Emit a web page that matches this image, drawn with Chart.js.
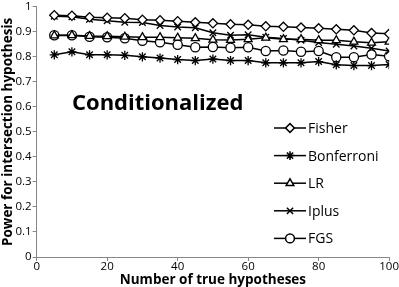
<!DOCTYPE html>
<html lang="en">
<head>
<meta charset="UTF-8">
<title>Power for intersection hypothesis</title>
<script src="https://cdn.jsdelivr.net/npm/chart.js"></script>
<style>
  html, body { margin: 0; padding: 0; background: #fff; }
  canvas { display: block; }
</style>
</head>
<body>
<canvas id="powerChart" width="399" height="287"></canvas>
<script>
// number of true hypotheses (x)
const trueHypotheses = [5, 10, 15, 20, 25, 30, 35, 40, 45, 50, 55, 60, 65, 70, 75, 80, 85, 90, 95, 100];

// power per method
const fisher     = [0.966, 0.964, 0.958, 0.956, 0.954, 0.948, 0.946, 0.942, 0.938, 0.934, 0.930, 0.928, 0.922, 0.920, 0.917, 0.914, 0.910, 0.906, 0.895, 0.892];
const bonferroni = [0.808, 0.820, 0.808, 0.808, 0.806, 0.800, 0.795, 0.789, 0.785, 0.791, 0.785, 0.785, 0.776, 0.776, 0.776, 0.781, 0.768, 0.765, 0.765, 0.769];
const lr         = [0.885, 0.886, 0.883, 0.882, 0.880, 0.878, 0.878, 0.876, 0.874, 0.868, 0.867, 0.870, 0.876, 0.870, 0.870, 0.866, 0.866, 0.860, 0.856, 0.860];
const iplus      = [0.962, 0.960, 0.950, 0.944, 0.938, 0.937, 0.925, 0.919, 0.916, 0.896, 0.886, 0.888, 0.878, 0.873, 0.866, 0.857, 0.850, 0.843, 0.834, 0.823];
const fgs        = [0.886, 0.886, 0.880, 0.878, 0.874, 0.864, 0.858, 0.848, 0.838, 0.839, 0.836, 0.838, 0.823, 0.825, 0.820, 0.823, 0.798, 0.798, 0.809, 0.802];

const seriesNames  = ['Fisher', 'Bonferroni', 'LR', 'Iplus', 'FGS'];
const seriesValues = [fisher, bonferroni, lr, iplus, fgs];
const markers      = ['rectRot', 'star', 'triangle', 'crossRot', 'circle'];

const xTicks = [0, 20, 40, 60, 80, 100];
const yTicks = [0, 0.1, 0.2, 0.3, 0.4, 0.5, 0.6, 0.7, 0.8, 0.9, 1];

const FONT = "'Open Sans', 'DejaVu Sans', sans-serif";
const AXIS_GREY = '#868686';

// big label inside the plot
const bigLabel = {
    id: 'bigLabel',
    afterDatasetsDraw(chart) {
        const ctx = chart.ctx;
        ctx.save();
        ctx.fillStyle = '#000';
        ctx.font = "bold 22px " + FONT;
        ctx.textBaseline = 'middle';
        ctx.fillText('Conditionalized', 72, 104);
        ctx.restore();
    }
};

// legend with line + marker, drawn inside the plot on the right
const insideLegend = {
    id: 'insideLegend',
    afterDatasetsDraw(chart) {
        const ctx = chart.ctx;
        ctx.save();
        chart.data.datasets.forEach((ds, i) => {
            const y = 128 + i * 27.6;
            const x0 = 274, x1 = 306;
            ctx.strokeStyle = '#000';
            ctx.lineWidth = 1.5;
            ctx.beginPath();
            ctx.moveTo(x0, y);
            ctx.lineTo(x1, y);
            ctx.stroke();
            ctx.fillStyle = '#fff';
            Chart.helpers.drawPoint(ctx, {
                pointStyle: ds.pointStyle, radius: 4.4, rotation: 0, borderWidth: 1.3
            }, (x0 + x1) / 2, y);
            ctx.fillStyle = '#000';
            ctx.font = "14px " + FONT;
            ctx.textBaseline = 'middle';
            ctx.fillText(ds.label, x1 + 2, y + 1);
        });
        ctx.restore();
    }
};

const datasets = seriesNames.map((name, i) => ({
    label: name,
    data: trueHypotheses.map((x, j) => ({ x: x, y: seriesValues[i][j] })),
    borderColor: '#000',
    borderWidth: 1.5,
    pointStyle: markers[i],
    pointRadius: 4.6,
    pointBorderWidth: 1.3,
    pointBorderColor: '#000',
    pointBackgroundColor: '#fff',
    fill: false,
    tension: 0
}));

new Chart(document.getElementById('powerChart').getContext('2d'), {
    type: 'line',
    data: { datasets: datasets },
    options: {
        responsive: false,
        animation: false,
        layout: { padding: { left: 1, right: 3, top: 1, bottom: 0 } },
        plugins: {
            legend: { display: false },
            tooltip: { enabled: false }
        },
        scales: {
            x: {
                type: 'linear',
                min: 0,
                max: 100,
                afterBuildTicks: axis => { axis.ticks = xTicks.map(v => ({ value: v })); },
                grid: { drawOnChartArea: false, tickLength: 4, color: AXIS_GREY },
                border: { color: AXIS_GREY, width: 1 },
                ticks: {
                    color: '#000', padding: 0, maxRotation: 0,
                    font: { family: FONT, size: 11.5, lineHeight: 1 },
                    callback: v => String(v)
                },
                title: {
                    display: true,
                    text: 'Number of true hypotheses',
                    color: '#000',
                    padding: { top: 1, bottom: 0 },
                    font: { family: FONT, size: 13.5, weight: 'bold', lineHeight: 1 }
                }
            },
            y: {
                type: 'linear',
                min: 0,
                max: 1,
                afterBuildTicks: axis => { axis.ticks = yTicks.map(v => ({ value: v })); },
                grid: { drawOnChartArea: false, tickLength: 4, color: AXIS_GREY },
                border: { color: AXIS_GREY, width: 1 },
                ticks: {
                    color: '#000', padding: 1,
                    font: { family: FONT, size: 11.5, lineHeight: 1 },
                    callback: v => String(v)
                },
                title: {
                    display: true,
                    text: 'Power for intersection hypothesis',
                    color: '#000',
                    padding: 0,
                    font: { family: FONT, size: 13.5, weight: 'bold', lineHeight: 1 }
                }
            }
        }
    },
    plugins: [bigLabel, insideLegend]
});
</script>
</body>
</html>
